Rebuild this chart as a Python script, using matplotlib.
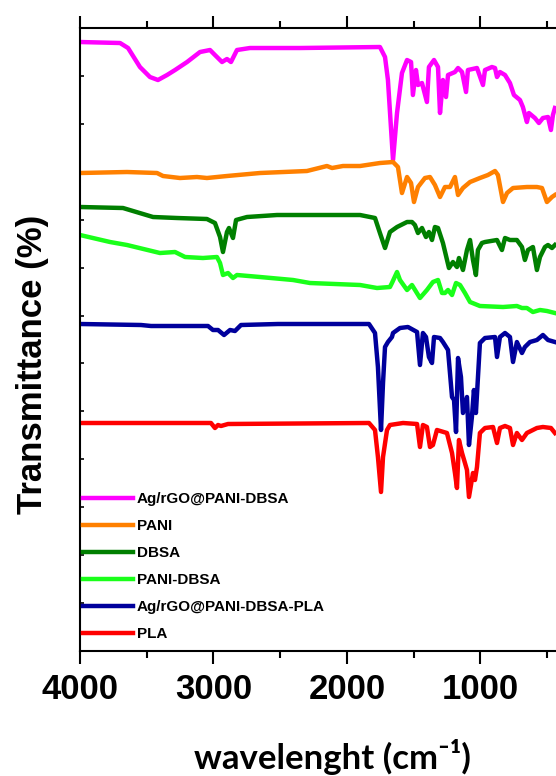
import numpy as np
import matplotlib
matplotlib.use('Agg')
import matplotlib.pyplot as plt
from matplotlib.ticker import MultipleLocator

# FTIR spectra, stacked with vertical offsets (arbitrary transmittance units)
labels = ['Ag/rGO@PANI-DBSA', 'PANI', 'DBSA', 'PANI-DBSA',
          'Ag/rGO@PANI-DBSA-PLA', 'PLA']
colors = ['#FF00FF', '#FF8000', '#007F00', '#1AFF1A', '#00009C', '#FF0000']

wn_agrgo = [4000, 3700, 3640, 3551, 3476, 3416, 3348, 3288, 3198, 3101, 3026, 2989,
            2936, 2899, 2869, 2824, 2727, 2352, 1753, 1715, 1693, 1655, 1625, 1588,
            1550, 1520, 1506, 1483, 1468, 1438, 1401, 1386, 1348, 1318, 1303, 1281,
            1258, 1243, 1191, 1168, 1138, 1108, 1094, 1026, 981, 966, 914, 891, 876,
            854, 816, 779, 749, 704, 682, 652, 637, 592, 562, 532, 494, 472, 457, 442]
t_agrgo = [609, 608, 603, 584, 574, 571, 576, 581, 589, 599, 601, 596,
           589, 592, 589, 601, 603, 603, 604, 594, 571, 491, 538, 578,
           591, 589, 556, 581, 566, 568, 549, 584, 591, 584, 538, 571,
           554, 576, 579, 583, 579, 559, 581, 583, 566, 581, 584, 583, 574,
           579, 576, 568, 556, 551, 544, 529, 538, 533, 528, 533, 534, 521, 536, 543]

wn_pani = [4000, 3648, 3423, 3378, 3251, 3124, 3049, 2899, 2652, 2300, 2150, 2112,
           2030, 1902, 1753, 1655, 1618, 1588, 1550, 1520, 1498, 1468, 1416, 1378,
           1341, 1303, 1266, 1228, 1191, 1168, 1131, 1078, 1004, 944, 891, 869, 831,
           801, 756, 652, 577, 539, 502, 464, 442]
t_pani = [478, 479, 478, 475, 473, 474, 473, 475, 478, 480, 485, 483,
          485, 485, 488, 489, 484, 458, 474, 468, 449, 464, 473, 474,
          466, 454, 464, 464, 474, 456, 463, 469, 473, 476, 480, 476, 449,
          458, 463, 464, 464, 463, 449, 454, 456]

wn_dbsa = [4000, 3678, 3603, 3453, 3273, 3049, 2989, 2951, 2929, 2899, 2884, 2854,
           2831, 2749, 2524, 2300, 1902, 1790, 1753, 1715, 1678, 1625, 1550, 1513,
           1491, 1468, 1438, 1408, 1386, 1363, 1341, 1318, 1281, 1236, 1206, 1176,
           1161, 1131, 1101, 1078, 1056, 1034, 1019, 989, 966, 876, 839, 816, 779,
           727, 689, 667, 644, 607, 577, 554, 517, 494, 464, 442]
t_dbsa = [444, 443, 440, 434, 433, 432, 428, 414, 399, 419, 423, 413,
          431, 434, 436, 436, 436, 433, 418, 403, 419, 424, 429, 429,
          426, 418, 423, 414, 419, 411, 424, 423, 408, 383, 389, 384,
          393, 381, 401, 411, 391, 376, 401, 408, 409, 411, 401, 413, 411,
          411, 404, 391, 401, 404, 381, 394, 404, 406, 403, 406]

wn_pani_dbsa = [4000, 3775, 3648, 3401, 3288, 3213, 3079, 2974, 2951, 2929, 2891,
                2854, 2824, 2652, 2404, 2277, 1902, 1775, 1678, 1663, 1625, 1603,
                1550, 1513, 1453, 1401, 1356, 1318, 1288, 1266, 1243, 1213, 1183,
                1153, 1116, 1078, 1004, 831, 727, 689, 652, 607, 554, 502, 442]
t_pani_dbsa = [416, 409, 406, 398, 399, 394, 393, 394, 388, 376, 378,
               373, 376, 374, 371, 368, 366, 363, 364, 368, 379, 371,
               361, 366, 353, 361, 369, 371, 358, 358, 361, 356, 368,
               366, 358, 349, 345, 344, 345, 343, 343, 339, 341, 340, 338]

wn_agrgo_pla = [4000, 3543, 3468, 3041, 3004, 2966, 2921, 2876, 2839, 2794, 2517,
                1835, 1790, 1768, 1745, 1730, 1715, 1693, 1663, 1655, 1603, 1543,
                1475, 1453, 1431, 1408, 1386, 1363, 1348, 1303, 1281, 1243, 1213,
                1198, 1183, 1168, 1146, 1131, 1101, 1086, 1064, 1049, 1034, 1004,
                966, 891, 876, 854, 816, 779, 756, 727, 689, 667, 629, 577, 532,
                494, 442]
t_agrgo_pla = [327, 326, 325, 325, 321, 321, 316, 321, 320, 326, 327,
               327, 318, 284, 221, 268, 304, 309, 314, 318, 323, 324,
               319, 286, 318, 314, 294, 288, 314, 313, 309, 301, 254,
               251, 219, 293, 274, 238, 254, 206, 234, 261, 238, 308,
               313, 314, 294, 314, 318, 314, 289, 309, 298, 304, 309, 311, 316,
               311, 309]

wn_pla = [4000, 3019, 2989, 2966, 2944, 2891, 1835, 1790, 1768, 1745, 1730, 1700,
          1678, 1580, 1475, 1453, 1431, 1401, 1378, 1356, 1326, 1251, 1213, 1191,
          1176, 1161, 1138, 1116, 1101, 1086, 1056, 1041, 1026, 1004, 966, 906,
          876, 854, 816, 779, 756, 727, 689, 652, 577, 532, 472, 442]
t_pla = [228, 228, 223, 226, 225, 227, 228, 221, 194, 159, 194, 221,
         226, 228, 227, 204, 226, 224, 204, 206, 221, 218, 198, 178,
         163, 211, 198, 188, 181, 154, 178, 171, 184, 218, 223, 224,
         208, 223, 225, 223, 206, 218, 211, 218, 223, 224, 223, 218]

spectra = [(wn_agrgo, t_agrgo), (wn_pani, t_pani), (wn_dbsa, t_dbsa),
           (wn_pani_dbsa, t_pani_dbsa), (wn_agrgo_pla, t_agrgo_pla),
           (wn_pla, t_pla)]

plt.rcParams['font.family'] = ['Liberation Sans', 'DejaVu Sans']
plt.rcParams['font.weight'] = 'bold'

fig = plt.figure(figsize=(5.56, 7.76), dpi=100)
ax = fig.add_axes([0.1439, 0.1611, 0.8561, 0.8028])

for (x, y), lab, c in zip(spectra, labels, colors):
    ax.plot(x, y, color=c, linewidth=3.2, label=lab, solid_joinstyle='round')

ax.set_xlim(4000, 434)
ax.set_ylim(0, 623)

ax.xaxis.set_major_locator(MultipleLocator(1000))
ax.xaxis.set_minor_locator(MultipleLocator(500))
ax.set_yticks(np.linspace(0, 623, 14))
ax.set_yticklabels([])
ax.tick_params(axis='x', which='both', direction='out', top=True, width=1.5,
               labelsize=25, pad=7)
ax.tick_params(axis='x', which='major', length=9)
ax.tick_params(axis='x', which='minor', length=5)
ax.tick_params(axis='y', direction='in', length=3, width=1.2)
for lbl in ax.get_xticklabels():
    lbl.set_fontweight('bold')

for side in ['left', 'top', 'bottom']:
    ax.spines[side].set_linewidth(1.5)
ax.spines['right'].set_visible(False)

ax.set_xlabel('wavelenght (cm\u207b\u00b9)', fontsize=25, fontweight='bold',
              family=['Lato', 'DejaVu Sans'])
ax.xaxis.set_label_coords(0.53, -0.142)
ax.set_ylabel('Transmittance (%)', fontsize=25, fontweight='bold')
ax.yaxis.set_label_coords(-0.065, 0.46)

leg = ax.legend(loc='lower left', bbox_to_anchor=(0.006, 0.016), frameon=False,
                prop={'size': 11, 'weight': 'bold'}, handlelength=3.3,
                handletextpad=0.25, labelspacing=0.85, borderaxespad=0,
                borderpad=0)

plt.savefig('out.png', dpi=100)
